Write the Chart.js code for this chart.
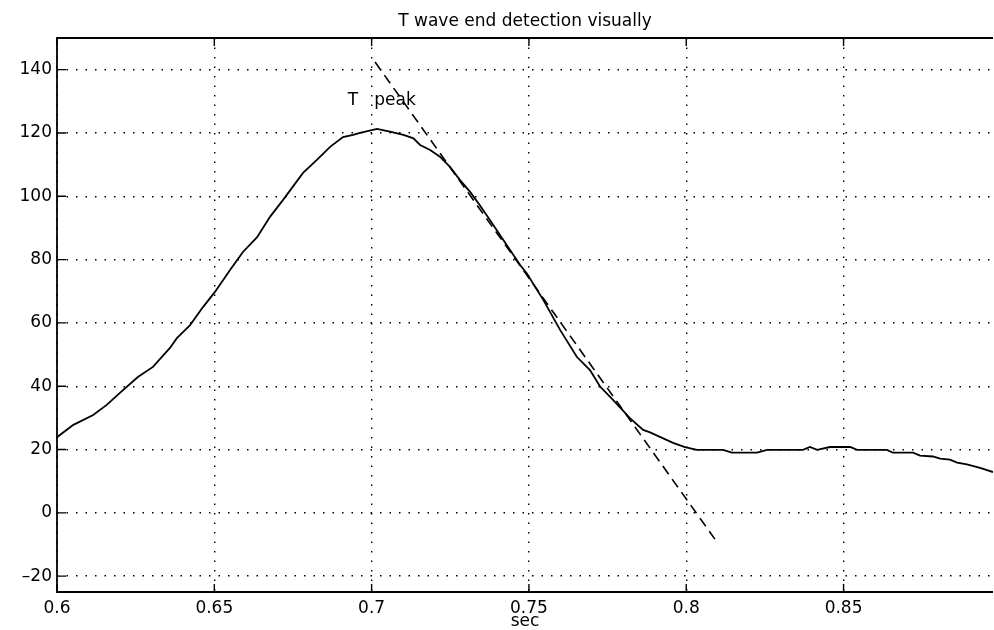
<!DOCTYPE html>
<html>
<head>
<meta charset="utf-8">
<script src="https://cdn.jsdelivr.net/npm/chart.js@4.4.0/dist/chart.umd.min.js"></script>
<style>
  html, body { margin: 0; padding: 0; background: #fff; }
</style>
</head>
<body>
<canvas id="chart" width="994" height="630"></canvas>
<script>
// ECG T wave (time in sec, amplitude)
const secs = [0.6000, 0.6052, 0.6115, 0.6158, 0.6200, 0.6257, 0.6305, 0.6359, 0.6381, 0.6423,
              0.6464, 0.6502, 0.6550, 0.6591, 0.6636, 0.6677, 0.6718, 0.6782, 0.6826, 0.6868,
              0.6909, 0.6941, 0.6963, 0.7017, 0.7058, 0.7101, 0.7133, 0.7154, 0.7186, 0.7217,
              0.7249, 0.7281, 0.7313, 0.7344, 0.7376, 0.7408, 0.7440, 0.7472, 0.7493, 0.7546,
              0.7599, 0.7652, 0.7694, 0.7726, 0.7768, 0.7821, 0.7863, 0.7885, 0.7958, 0.7996,
              0.8034, 0.8117, 0.8145, 0.8225, 0.8257, 0.8371, 0.8393, 0.8416, 0.8457, 0.8521,
              0.8543, 0.8638, 0.8657, 0.8721, 0.8743, 0.8784, 0.8807, 0.8838, 0.8861, 0.8892,
              0.8934, 0.8975];
const amp  = [23.9, 27.8, 30.9, 34.1, 37.9, 42.9, 46.1, 52.1, 55.2, 59.3,
              65.0, 69.8, 76.7, 82.4, 87.1, 93.5, 98.8, 107.4, 111.5, 115.6,
              118.7, 119.4, 120.0, 121.3, 120.4, 119.4, 118.3, 116.2, 114.6, 112.5,
              109.3, 105.1, 101.4, 97.2, 92.5, 87.8, 83.0, 78.3, 75.7, 67.2,
              57.8, 49.3, 45.1, 39.9, 35.6, 29.9, 26.2, 25.4, 22.1, 20.8,
              19.9, 19.9, 19.0, 19.0, 19.9, 19.9, 20.8, 19.9, 20.8, 20.8,
              19.9, 19.9, 19.0, 19.0, 18.1, 17.8, 17.1, 16.8, 15.9, 15.3,
              14.2, 12.9];

// tangent drawn on the falling edge
const tangentSecs = [0.7011, 0.8091];
const tangentAmp  = [142.4, -8.3];

// axis ranges
const xMin = 0.6, xMax = 0.8975, xStep = 0.05;
const yMin = -25, yMax = 150, yStep = 20;

// "T peak" label anchor (data coords)
const peakLabel = { x: 0.6924, y: 128.8, text: 'T   peak' };

const FONT = '"DejaVu Sans", "Liberation Sans", sans-serif';

const frameAndLabel = {
    id: 'frameAndLabel',
    afterDatasetsDraw(chart) {
        const { ctx, chartArea: a, scales: { x, y } } = chart;
        ctx.save();
        ctx.strokeStyle = '#000';
        ctx.lineWidth = 1.8;
        ctx.beginPath();
        ctx.moveTo(a.right, a.top);
        ctx.lineTo(a.left, a.top);
        ctx.lineTo(a.left, a.bottom);
        ctx.lineTo(a.right, a.bottom);
        ctx.stroke();

        // inward ticks, matlab style
        ctx.lineWidth = 1.4;
        ctx.beginPath();
        x.ticks.forEach(t => {
            const px = x.getPixelForValue(t.value);
            ctx.moveTo(px, a.bottom); ctx.lineTo(px, a.bottom - 8);
            ctx.moveTo(px, a.top); ctx.lineTo(px, a.top + 8);
        });
        y.ticks.forEach(t => {
            const py = y.getPixelForValue(t.value);
            ctx.moveTo(a.left, py); ctx.lineTo(a.left + 9, py);
        });
        ctx.stroke();

        ctx.fillStyle = '#000';
        ctx.font = '17px ' + FONT;
        ctx.textBaseline = 'alphabetic';
        ctx.textAlign = 'left';
        ctx.fillText(peakLabel.text, x.getPixelForValue(peakLabel.x), y.getPixelForValue(peakLabel.y));
        ctx.restore();
    }
};

const gridStyle = { color: '#000', lineWidth: 1.4, drawTicks: false };
const dotted = { display: false, dash: [1.5, 8] };

new Chart(document.getElementById('chart'), {
    type: 'line',
    data: {
        datasets: [
            {
                label: 'T wave',
                data: secs.map((s, i) => ({ x: s, y: amp[i] })),
                borderColor: '#000',
                borderWidth: 1.8,
                pointRadius: 0,
                tension: 0
            },
            {
                label: 'tangent',
                data: tangentSecs.map((s, i) => ({ x: s, y: tangentAmp[i] })),
                borderColor: '#000',
                borderWidth: 1.6,
                borderDash: [10, 6],
                pointRadius: 0,
                tension: 0
            }
        ]
    },
    options: {
        responsive: false,
        animation: false,
        layout: { padding: { left: 0, right: 1, top: 0, bottom: 0 } },
        plugins: {
            legend: { display: false },
            tooltip: { enabled: false },
            title: {
                display: true,
                fullSize: false,
                text: 'T wave end detection visually',
                color: '#000',
                font: { family: FONT, size: 17, weight: 'normal' },
                padding: { top: 11, bottom: 6.6 }
            }
        },
        scales: {
            x: {
                type: 'linear',
                min: xMin, max: xMax,
                grid: gridStyle,
                border: dotted,
                ticks: {
                    stepSize: xStep,
                    includeBounds: false,
                    color: '#000',
                    padding: 6,
                    maxRotation: 0,
                    font: { family: FONT, size: 17 },
                    callback: v => String(Number(v.toFixed(2)))
                },
                title: {
                    display: true,
                    text: 'sec',
                    color: '#000',
                    font: { family: FONT, size: 17 },
                    padding: { top: 0, bottom: -2 }
                },
                afterFit: s => { s.height = 38; }
            },
            y: {
                min: yMin, max: yMax,
                grid: gridStyle,
                border: dotted,
                ticks: {
                    stepSize: yStep,
                    includeBounds: false,
                    color: '#000',
                    padding: 5,
                    font: { family: FONT, size: 17 },
                    callback: v => String(v).replace('-', '\u2013')
                },
                afterFit: s => { s.width = 57; }
            }
        }
    },
    plugins: [frameAndLabel]
});
</script>
</body>
</html>
